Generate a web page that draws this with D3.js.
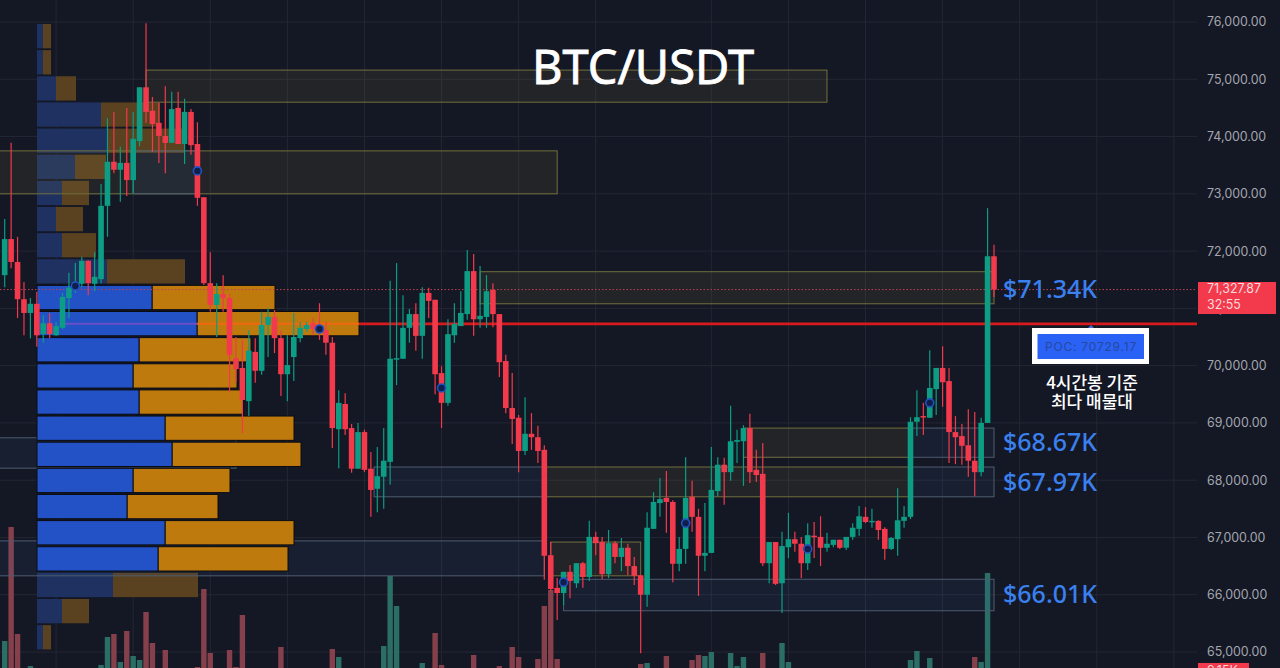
<!DOCTYPE html>
<html>
<head>
<meta charset="utf-8">
<script src="https://cdn.jsdelivr.net/npm/d3@7"></script>
<style>
  html, body { margin:0; padding:0; background:#141724; overflow:hidden; }
  text { font-family:"Noto Sans", sans-serif; }
</style>
</head>
<body>
<svg id="chart" width="1280" height="668"></svg>
<script>
const WIDTH = 1280;
const HEIGHT = 668;
const PLOT_RIGHT = 1197;

// 4h candles
const candleOpen = [
  71580,72210,71810,71160,70920,71080,70550,70740,70530,70660,
  71180,71320,71430,71830,71430,71510,72790,73560,73420,73540,
  73240,73920,74860,74450,74240,74010,73890,74500,73870,74430,
  73870,72940,71440,71060,71250,71180,70130,69960,69380,70240,
  69910,70710,70850,70480,69850,70150,70480,70640,70740,70710,
  70620,70400,68890,69330,68910,68200,68840,68200,67850,68060,
  68320,70120,70120,70660,70900,70520,71270,71150,69870,69350,
  70530,70690,70900,71650,70810,70850,71320,70900,70080,69260,
  69090,68510,68810,68750,68530,66690,66120,66030,66400,66200,
  66550,66310,67010,66920,66360,66900,66660,66820,66500,66340,
  66000,67150,67600,67690,67620,66540,66800,67710,67360,66680,
  66730,67810,68270,68140,68670,68680,68910,68180,68110,66550,
  66920,66200,66830,66970,66890,66550,67030,67010,66820,66870,
  66960,66820,67010,67150,67360,67270,67290,67150,66800,66970,
  67290,67360,69020,69120,69090,69590,69960,69730,68840,68770,
  68610,68340,68140,69000,71910];
const candleClose = [
  72210,71810,71160,70920,71080,70530,70740,70550,70690,71200,
  71360,71460,71830,71440,71550,72790,73560,73420,73540,73240,
  73960,74860,74430,74220,74010,73890,74480,73870,74430,73850,
  72930,71440,71060,71250,71180,70190,69940,69400,70260,69910,
  70710,70850,70480,69850,70010,70500,70660,70710,70640,70570,
  70400,68910,69350,68890,68200,68840,68180,67830,68070,68340,
  70120,70130,70660,70900,70520,71270,71130,69850,69350,70550,
  70730,70920,71650,70810,70870,71300,70900,70060,69260,69070,
  68510,68810,68750,68510,66680,66100,66030,66400,66240,66550,
  66310,67010,66900,66360,66900,66660,66820,66500,66330,66000,
  67170,67620,67670,67620,66540,66800,67690,67360,66680,66730,
  67830,68270,68140,68680,68700,68910,68140,68090,66550,66920,
  66190,66850,66970,66890,66550,67040,67010,66820,66890,66960,
  66820,67010,67170,67370,67270,67290,67130,66800,66990,67300,
  67360,69020,69100,69100,69610,69960,69710,68840,68750,68600,
  68340,68140,69000,71910,71327.87];
const candleHigh = [
  72560,73890,72250,71460,71180,71290,70880,70920,70760,71270,
  71620,71790,71900,71840,71980,73170,74320,74430,73820,74500,
  74430,74860,75980,74690,74590,74880,74780,74780,74660,74480,
  74250,72940,71980,71440,71580,71250,70500,70450,70620,70480,
  70940,71010,70970,70620,70530,70920,70760,70760,70830,71090,
  70760,70500,69570,69520,68980,69000,68880,68490,68580,68910,
  71480,71790,71230,70990,71090,71370,71360,71150,69990,70810,
  71090,71300,72020,71950,71740,71580,71440,70900,70190,69870,
  69140,69450,69170,68950,68610,66920,66290,66400,66520,66550,
  66570,67290,67100,67010,67130,66940,66990,66890,66660,66340,
  67440,67790,68040,68160,67650,67010,68400,67990,67500,67600,
  68580,68400,68390,69300,68880,68960,69160,68530,68650,66920,
  66920,67100,67430,67100,67010,67250,67270,67370,67080,66960,
  66960,67010,67250,67550,67530,67500,67300,67180,67010,67860,
  67550,69100,69570,69350,70270,69960,70340,69960,69120,68980,
  69240,69190,69090,72750,72110];
const candleLow = [
  71370,71700,70830,70530,70480,70330,70400,70480,70520,70640,
  70830,71270,71370,71230,71300,71440,72250,73360,72860,72960,
  73010,73830,74240,73730,73540,73360,73890,73870,73520,73680,
  72790,71410,70940,70500,70940,69540,69700,68820,69120,69700,
  69840,70150,70220,69470,69380,69730,70410,70590,70530,70450,
  70190,68560,68210,68790,68130,68200,68140,67360,67440,67500,
  67920,69660,70120,70400,70260,70120,70830,69500,68910,69300,
  70400,70690,70800,70520,70660,70660,70670,69800,69170,68630,
  68140,68440,68530,68300,66260,66070,65560,65820,65940,66120,
  66120,66240,66690,66270,66290,66550,66410,66340,66170,64980,
  65790,67150,67360,67080,66220,66410,66540,67100,65980,66410,
  66730,67720,67570,67990,68300,67900,67950,67970,66500,66200,
  66170,65680,66640,66750,66290,66430,66640,66500,66750,66830,
  66800,66780,66960,67030,67250,67170,66960,66610,66780,66680,
  67170,67320,68770,68790,69090,69140,69280,68300,68280,68270,
  68060,67720,68070,69000,71200];

// volume pane: candle index and value (only the bars that reach into view)
const volumeIndex = [0,1,2,4,15,16,17,18,19,20,21,22,23,25,30,31,32,35,36,37,43,51,52,59,60,61,65,67,68,73,77,79,80,83,84,85,86,99,100,103,107,108,109,110,113,114,115,118,121,122,141,142,144,151,152,153];
const volumeValue = [27,141,34,2,3,31,34,6,37,12,8,56,25,18,1,79,15,18,1,53,21,19,11,22,92,62,5,35,3,13,2,21,11,9,62,78,9,4,5,12,8,13,12,16,15,2,11,15,25,6,8,17,10,11,6,95];

// volume profile rows, top to bottom
const profileBuy  = [6,6,19,64,70,38,25,19,25,70,115,160,102,96,102,128,135,96,90,128,121,76,25,6];
const profileSell = [8,8,20,59,78,31,27,27,34,78,123,162,112,104,104,129,129,97,91,129,130,85,27,8];
const profileBright = [0,0,0,0,0,0,0,0,0,0,1,1,1,1,1,1,1,1,1,1,1,0,0,0];
const PROFILE_TOP = 75965;
const PROFILE_BOTTOM = 65045;

// supply / demand boxes
const zoneStart  = [22,-1,20,74,115,141,84,57.5,141,85,-1,87,-1];
const zoneEnd    = [128,86,30,154,141,154,141,84,154,99,84,154,36];
const zoneTop    = [75160,73750,73750,71640,68910,68910,68230,68230,68230,66920,66940,66270,68740];
const zoneBottom = [74600,73000,73000,71080,68400,68400,67710,67710,67710,66330,66330,65720,68210];
const zoneKind   = ["y","y","b","y","y","b","y","b","b","y","b","b","b"];

// blue session markers
const markerIndex = [11,30,49,68,87,106,125,144];
const markerPrice = [71390,73400,70640,69610,66220,67250,66800,69350];

const priceTicks = [65000,66000,67000,68000,69000,70000,71000,72000,73000,74000,75000,76000];
const gridCandles = [8,20,32,44,56,68,80,92,110,122,134,146,158,170,182];

const LAST_PRICE = 71327.87;
const POC_PRICE = 70729.17;

const levelLabels = ["$71.34K","$68.67K","$67.97K","$66.01K"];
const levelPrices = [71340,68670,67970,66010];

const UP = "#0c9d84";
const DOWN = "#f23a4c";
const UP_VOL = "#2a6e66";
const DOWN_VOL = "#85404c";

const x = d3.scaleLinear().domain([0,154]).range([4.7,994]);
const y = d3.scaleLinear().domain([65000,76000]).range([652,22]);
const yVol = d3.scaleLinear().domain([0,100]).range([668,568]);
const xProfile = d3.scaleLinear().domain([0,322]).range([37,359]);
const yProfile = d3.scaleBand().domain(d3.range(profileBuy.length))
                   .range([y(PROFILE_TOP),y(PROFILE_BOTTOM)]).paddingInner(0.07);

const svg = d3.select("#chart");
svg.append("rect").attr("width",WIDTH).attr("height",HEIGHT).attr("fill","#141724");

// grid
svg.append("g").selectAll("line").data(priceTicks).join("line")
   .attr("x1",0).attr("x2",PLOT_RIGHT)
   .attr("y1",d=>y(d)).attr("y2",d=>y(d))
   .attr("stroke","#242734").attr("stroke-width",1);
svg.append("g").selectAll("line").data(gridCandles).join("line")
   .attr("x1",d=>x(d)).attr("x2",d=>x(d))
   .attr("y1",0).attr("y2",HEIGHT)
   .attr("stroke","#242734").attr("stroke-width",1);

// price axis
const yAxis = d3.axisRight(y).tickValues(priceTicks).tickFormat(d3.format(",.2f")).tickSize(0).tickPadding(0);
const axisG = svg.append("g").attr("transform","translate(1207,0)").call(yAxis);
axisG.select(".domain").remove();
axisG.selectAll("text").attr("fill","#a3a6af").style("font-family","Inter").style("font-size","12.4px");

// volume
svg.append("g").selectAll("rect").data(volumeIndex).join("rect")
   .attr("x",d=>x(d)-2.7).attr("width",5.4)
   .attr("y",(d,i)=>yVol(volumeValue[i]))
   .attr("height",(d,i)=>HEIGHT-yVol(volumeValue[i]))
   .attr("fill",d=>candleClose[d]>=candleOpen[d] ? UP_VOL : DOWN_VOL);

// volume profile, dim or bright rows only
function drawProfile(bright){
  const g = svg.append("g");
  const rows = d3.range(profileBuy.length).filter(i=>profileBright[i]===bright);
  g.selectAll(".sell").data(rows).join("rect").attr("class","sell")
   .attr("x",i=>xProfile(profileBuy[i])).attr("width",i=>xProfile(profileSell[i])-xProfile(0))
   .attr("y",i=>yProfile(i)).attr("height",yProfile.bandwidth())
   .attr("fill",bright ? "#bf7a0e" : "#5a411f")
   .attr("stroke",bright ? "#0b0c12" : "none");
  g.selectAll(".buy").data(rows).join("rect").attr("class","buy")
   .attr("x",xProfile(0)).attr("width",i=>xProfile(profileBuy[i])-xProfile(0))
   .attr("y",i=>yProfile(i)).attr("height",yProfile.bandwidth())
   .attr("fill",bright ? "#2351c6" : "#1e3160")
   .attr("stroke",bright ? "#0b0c12" : "none");
}
drawProfile(0);

// zones
svg.append("g").selectAll("rect").data(zoneStart).join("rect")
   .attr("x",d=>Math.max(x(d),-2))
   .attr("width",(d,i)=>x(zoneEnd[i])-Math.max(x(d),-2))
   .attr("y",(d,i)=>y(zoneTop[i]))
   .attr("height",(d,i)=>y(zoneBottom[i])-y(zoneTop[i]))
   .attr("fill",(d,i)=>zoneKind[i]==="y" ? "rgba(140,135,70,0.12)" : "rgba(60,110,170,0.1)")
   .attr("stroke",(d,i)=>zoneKind[i]==="y" ? "#72703d" : "#4e5d70")
   .attr("stroke-width",1);

drawProfile(1);

// last price dotted line
svg.append("line")
   .attr("x1",0).attr("x2",PLOT_RIGHT)
   .attr("y1",y(LAST_PRICE)).attr("y2",y(LAST_PRICE))
   .attr("stroke","#c24350").attr("stroke-width",1).attr("stroke-dasharray","1.5 2");

// point of control line
svg.append("line")
   .attr("x1",xProfile(322)).attr("x2",PLOT_RIGHT)
   .attr("y1",y(POC_PRICE)).attr("y2",y(POC_PRICE))
   .attr("stroke","#d71a1c").attr("stroke-width",2.6);
svg.append("line")
   .attr("x1",xProfile(160)).attr("x2",xProfile(322))
   .attr("y1",y(POC_PRICE)).attr("y2",y(POC_PRICE))
   .attr("stroke","#f0680f").attr("stroke-width",2);
svg.append("line")
   .attr("x1",xProfile(24)).attr("x2",xProfile(160))
   .attr("y1",y(POC_PRICE)).attr("y2",y(POC_PRICE))
   .attr("stroke","#6a4fc4").attr("stroke-width",2);

// candles
const candles = svg.append("g");
candles.selectAll(".wick").data(candleOpen).join("line").attr("class","wick")
   .attr("x1",(d,i)=>x(i)).attr("x2",(d,i)=>x(i))
   .attr("y1",(d,i)=>y(candleHigh[i])).attr("y2",(d,i)=>y(candleLow[i]))
   .attr("stroke",(d,i)=>candleClose[i]>=d ? UP : DOWN).attr("stroke-width",1.2);
candles.selectAll(".body").data(candleOpen).join("rect").attr("class","body")
   .attr("x",(d,i)=>x(i)-2.8).attr("width",5.6)
   .attr("y",(d,i)=>y(Math.max(d,candleClose[i])))
   .attr("height",(d,i)=>Math.max(1.5,Math.abs(y(d)-y(candleClose[i]))))
   .attr("fill",(d,i)=>candleClose[i]>=d ? UP : DOWN);

// markers
svg.append("g").selectAll("circle").data(markerIndex).join("circle")
   .attr("cx",d=>x(d)).attr("cy",(d,i)=>y(markerPrice[i])).attr("r",4)
   .attr("fill","#101f4a").attr("stroke","#2152c4").attr("stroke-width",1.6);

// last price tag
svg.append("rect").attr("x",1198).attr("y",282).attr("width",78).attr("height",32).attr("fill","#f23a4c");
svg.append("text").attr("x",1207).attr("y",293).attr("fill","#fbd9dc")
   .style("font-family","Inter").style("font-size","12.4px").text("71,327.87");
svg.append("text").attr("x",1207).attr("y",309).attr("fill","#fbd9dc")
   .style("font-family","Inter").style("font-size","12.4px").text("32:55");

// volume tag, cut by the bottom edge
svg.append("rect").attr("x",1198).attr("y",663).attr("width",51).attr("height",5).attr("fill","#f23a4c");
svg.append("text").attr("x",1207).attr("y",675).attr("fill","#fbd9dc")
   .style("font-family","Inter").style("font-size","12.4px").text("9.15K");

// level labels
svg.append("g").selectAll("text").data(levelLabels).join("text")
   .attr("x",1003).attr("y",(d,i)=>y(levelPrices[i])+9)
   .attr("fill","#3a80ee").style("font-size","25px").style("font-weight","500").text(d=>d);

// POC callout
svg.append("path").attr("d","M1087,329L1091,325L1095,329Z").attr("fill","#4a6fd8");
svg.append("rect").attr("x",1032).attr("y",328).attr("width",117).attr("height",36).attr("fill","#ffffff");
svg.append("rect").attr("x",1037.5).attr("y",334).attr("width",106.5).attr("height",25).attr("fill","#2a62f5");
svg.append("text").attr("x",1091).attr("y",351).attr("text-anchor","middle").attr("fill","#27489f")
   .style("font-family","Inter").style("font-size","12px").style("letter-spacing","0.8px").text("POC: 70729.17");

svg.append("text").attr("x",1092).attr("y",389).attr("text-anchor","middle").attr("fill","#ffffff")
   .style("font-family","Noto Sans CJK KR").style("font-size","17px").style("font-weight","500").text("4시간봉 기준");
svg.append("text").attr("x",1092).attr("y",408).attr("text-anchor","middle").attr("fill","#ffffff")
   .style("font-family","Noto Sans CJK KR").style("font-size","17px").style("font-weight","500").text("최다 매물대");

// title
svg.append("text").attr("x",643).attr("y",84).attr("text-anchor","middle").attr("fill","#ffffff")
   .attr("stroke","#ffffff").attr("stroke-width",0.8)
   .style("font-size","47px").text("BTC/USDT");
</script>
</body>
</html>
